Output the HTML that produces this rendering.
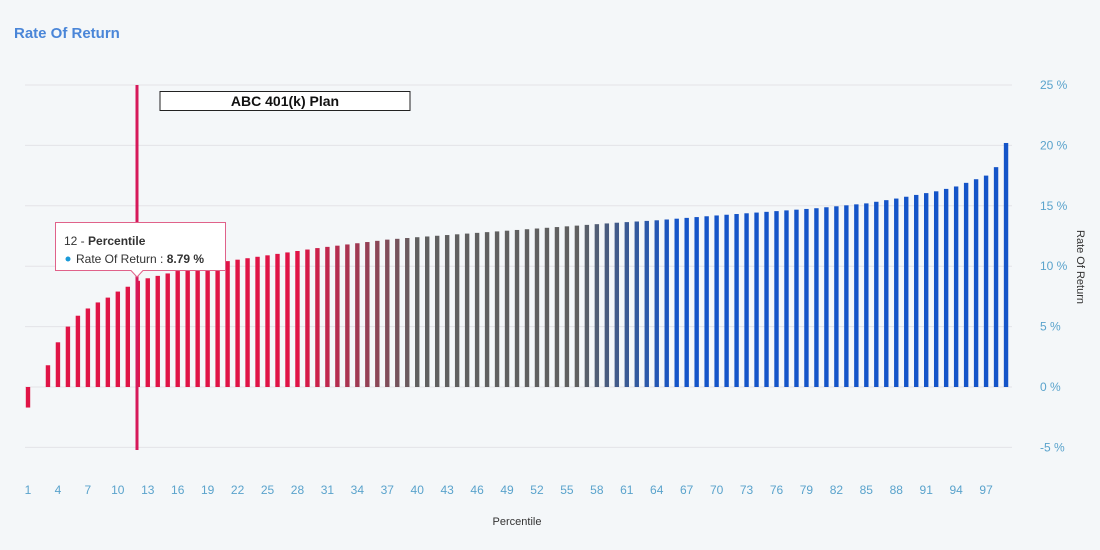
<!DOCTYPE html>
<html><head><meta charset="utf-8"><style>
body{margin:0;background:#f4f7f9;font-family:"Liberation Sans",sans-serif;}
</style></head><body>
<svg id="s" width="1100" height="550" xmlns="http://www.w3.org/2000/svg" style="display:block;background:#f4f7f9">
<text x="14" y="38" font-size="15" font-weight="bold" fill="#4a86d8" font-family="Liberation Sans">Rate Of Return</text>
<g id="grid" stroke="#e3e3e8" stroke-width="1"></g>
<g id="bars"></g>
<g id="ylab" font-size="12" fill="#5aa3cc" font-family="Liberation Sans"></g>
<g id="xlab" font-size="12" fill="#5aa3cc" font-family="Liberation Sans" text-anchor="middle"></g>
<text x="517" y="525" font-size="11" fill="#333" text-anchor="middle">Percentile</text>
<text transform="translate(1077,267) rotate(90)" font-size="11" fill="#333" text-anchor="middle">Rate Of Return</text>
<line x1="137" y1="85" x2="137" y2="450" stroke="#d6195a" stroke-width="3"/>
<rect x="160" y="91.5" width="250" height="19" fill="#fff" stroke="#222" stroke-width="1"/>
<text x="285" y="106" font-size="14" font-weight="bold" fill="#111" text-anchor="middle">ABC 401(k) Plan</text>
<path d="M55.5 222.5 H225.5 V270.5 H143 L137 277 L131 270.5 H55.5 Z" fill="#fff" stroke="#e0628a" stroke-width="1"/>
<text x="64" y="245" font-size="12" fill="#333">12 - <tspan font-weight="bold">Percentile</tspan></text>
<circle cx="68" cy="259" r="2.5" fill="#1a9ad8"/>
<text x="76" y="263" font-size="12" fill="#333">Rate Of Return : <tspan font-weight="bold">8.79 %</tspan></text>
</svg>
<script>
var ns="http://www.w3.org/2000/svg";
function el(p,t,a,txt){var e=document.createElementNS(ns,t);for(var k in a)e.setAttribute(k,a[k]);if(txt)e.textContent=txt;document.getElementById(p).appendChild(e);return e;}
var y0=387,k=12.08;
for(var v=-5;v<=25;v+=5){var y=y0-v*k;el("grid","line",{x1:25,x2:1012,y1:y,y2:y});el("ylab","text",{x:1040,y:y+4},v+" %");}
var pts=[[1,-1.7],[2,0],[3,1.8],[4,3.7],[5,5.0],[6,5.9],[7,6.5],[8,7.0],[9,7.4],[10,7.9],[11,8.3],[12,8.79],[13,9.0],[16,9.6],[20,10.3],[25,10.9],[30,11.5],[37,12.2],[40,12.4],[50,13.0],[60,13.6],[64,13.8],[70,14.2],[80,14.8],[85,15.2],[88,15.6],[90,15.9],[92,16.2],[94,16.6],[95,16.9],[96,17.2],[97,17.5],[98,18.2],[99,20.2]];
function val(i){for(var j=0;j<pts.length-1;j++){var a=pts[j],b=pts[j+1];if(i>=a[0]&&i<=b[0])return a[1]+(b[1]-a[1])*(i-a[0])/(b[0]-a[0]);}return 0;}
function mix(c1,c2,t){return "rgb("+c1.map(function(c,i){return Math.round(c+(c2[i]-c)*t)}).join(",")+")";}
var red=[224,20,70],gray=[96,96,96],blue=[20,84,200];
function col(i){if(i<=28)return mix(red,red,0);if(i<=40)return mix(red,gray,(i-28)/12);if(i<=56)return mix(gray,gray,0);if(i<=66)return mix(gray,blue,(i-56)/10);return mix(blue,blue,0);}
for(var i=1;i<=99;i++){var x=28+(i-1)*9.98,v=val(i);if(v==0)continue;var y=v>0?y0-v*k:y0,h=Math.abs(v)*k;el("bars","rect",{x:x-2.2,y:y,width:4.4,height:h,fill:col(i)});}
for(var i=1;i<=97;i+=3){el("xlab","text",{x:28+(i-1)*9.98,y:494},i);}
</script>
</body></html>
